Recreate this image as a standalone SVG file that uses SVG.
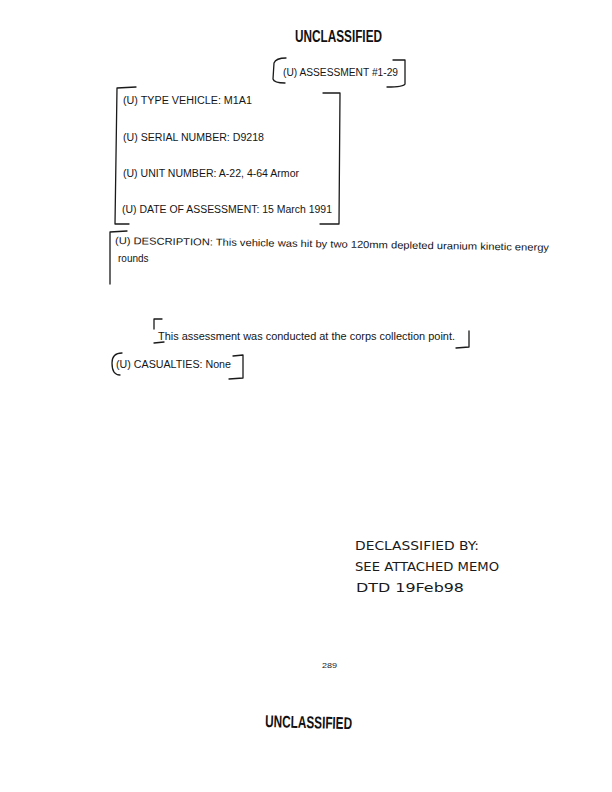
<svg xmlns="http://www.w3.org/2000/svg" width="612" height="792" viewBox="0 0 612 792">
<style>
.t{font-family:"Liberation Sans",Arial,sans-serif;font-size:10px;fill:#151515}
.stamp{font-family:"Liberation Sans",Arial,sans-serif;font-weight:bold;fill:#111}
.hand{font-family:"DejaVu Sans","Liberation Sans",sans-serif;font-size:13px;fill:#1a1a1a}
.pg{font-family:"Liberation Sans",Arial,sans-serif;font-size:8px;fill:#222}
.br{fill:none;stroke:#1a1a1a;stroke-width:1.3;stroke-linecap:round;stroke-linejoin:round}
</style>
<rect width="612" height="792" fill="#fff"/>
<g id="header-stamp">
<text class="stamp" x="295" y="42" font-size="16" textLength="87" lengthAdjust="spacingAndGlyphs">UNCLASSIFIED</text>
</g>
<g id="assessment">
<text class="t" x="283" y="76" textLength="115" lengthAdjust="spacingAndGlyphs">(U) ASSESSMENT #1-29</text>
</g>
<g id="vehicle-info">
<text class="t" x="123" y="104" textLength="129" lengthAdjust="spacingAndGlyphs">(U) TYPE VEHICLE:  M1A1</text>
<text class="t" x="123" y="141" textLength="141" lengthAdjust="spacingAndGlyphs">(U) SERIAL NUMBER:  D9218</text>
<text class="t" x="123" y="177" textLength="176" lengthAdjust="spacingAndGlyphs">(U) UNIT NUMBER:  A-22, 4-64 Armor</text>
<text class="t" x="122" y="213" textLength="210" lengthAdjust="spacingAndGlyphs">(U) DATE OF ASSESSMENT:  15 March 1991</text>
</g>
<g id="description">
<text class="t" x="115" y="244" font-size="10.4" textLength="434" lengthAdjust="spacingAndGlyphs" transform="rotate(0.9 115 244)">(U) DESCRIPTION:  This vehicle was hit by two 120mm depleted uranium kinetic energy</text>
<text class="t" x="118" y="262" font-size="10.4">rounds</text>
</g>
<g id="note">
<text class="t" x="158" y="340" font-size="10.4" textLength="297" lengthAdjust="spacingAndGlyphs">This assessment was conducted at the corps collection point.</text>
</g>
<g id="casualties">
<text class="t" x="116" y="368" font-size="10.4" textLength="115" lengthAdjust="spacingAndGlyphs">(U) CASUALTIES:  None</text>
</g>
<g id="brackets">
<path class="br" d="M286,58 Q276,58 274,63 L273,79 Q274,83 285,83"/>
<path class="br" d="M393,60 L405,60 L405,84 Q404,87 387,87"/>
<path class="br" d="M136,87 L117,88 L115,224 L129,224"/>
<path class="br" d="M323,93 L340,93 L339,224 L320,224"/>
<path class="br" d="M127,231 L110,232 L110,284"/>
<path class="br" d="M162,319 L154,319 L154,329 M154,343 L164,342"/>
<path class="br" d="M469,331 L469,347 L456,348"/>
<path class="br" d="M122,353 Q112,353 112,363 Q112,375 120,375"/>
<path class="br" d="M233,356 L243,355 L243,378 L229,379"/>
</g>
<g id="declassified">
<text class="hand" x="355" y="550" textLength="124" lengthAdjust="spacingAndGlyphs">DECLASSIFIED BY:</text>
<text class="hand" x="355" y="571" textLength="144" lengthAdjust="spacingAndGlyphs">SEE ATTACHED MEMO</text>
<text class="hand" x="356" y="592" textLength="108" lengthAdjust="spacingAndGlyphs">DTD 19Feb98</text>
</g>
<g id="page-number">
<text class="pg" x="322" y="668" textLength="15" lengthAdjust="spacingAndGlyphs">289</text>
</g>
<g id="footer-stamp">
<text class="stamp" x="265" y="727" font-size="17" textLength="87" lengthAdjust="spacingAndGlyphs" transform="rotate(1.5 265 727)">UNCLASSIFIED</text>
</g>
</svg>
